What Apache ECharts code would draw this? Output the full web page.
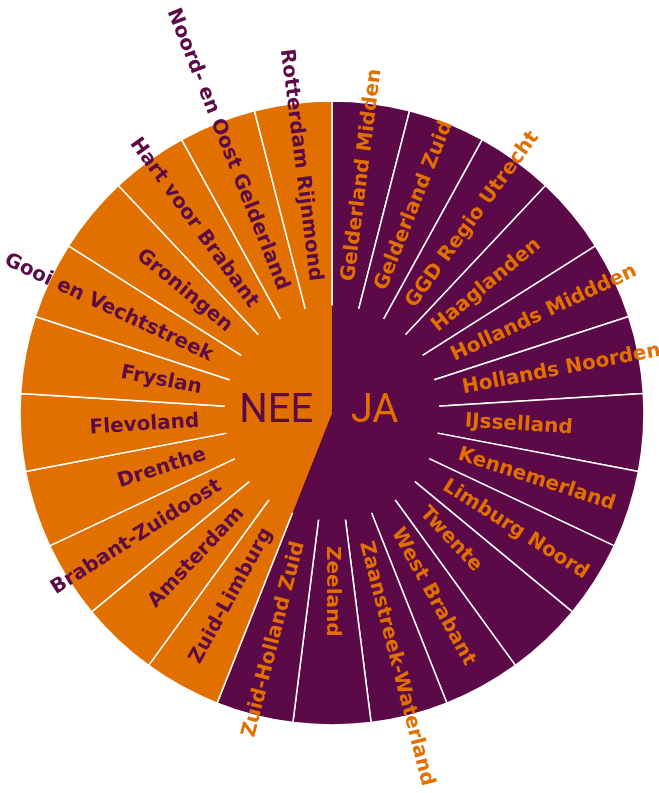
<!DOCTYPE html>
<html>
<head>
<meta charset="utf-8">
<script src="https://cdn.jsdelivr.net/npm/echarts@6/dist/echarts.min.js"></script>
<style>
  html, body { margin: 0; padding: 0; background: #ffffff; }
  #chart { width: 659px; height: 793px; }
</style>
</head>
<body>
<div id="chart"></div>
<script>
// ---- data ----
const groups = ['JA', 'NEE'];
const jaRegions = ['Gelderland Midden', 'Gelderland Zuid', 'GGD Regio Utrecht', 'Haaglanden',
  'Hollands Middden', 'Hollands Noorden', 'IJsselland', 'Kennemerland', 'Limburg Noord',
  'Twente', 'West Brabant', 'Zaanstreek-Waterland', 'Zeeland', 'Zuid-Holland Zuid'];
const jaValues = [1, 1, 1, 1, 1, 1, 1, 1, 1, 1, 1, 1, 1, 1];
const neeRegions = ['Zuid-Limburg', 'Amsterdam', 'Brabant-Zuidoost', 'Drenthe', 'Flevoland',
  'Fryslan', 'Gooi en Vechtstreek', 'Groningen', 'Hart voor Brabant',
  'Noord- en Oost Gelderland', 'Rotterdam Rijnmond'];
const neeValues = [1, 1, 1, 1, 1, 1, 1, 1, 1, 1, 1];

// ---- styles ----
const PURPLE = '#5C0A47';
const ORANGE = '#E27000';
const groupFill = { JA: PURPLE, NEE: ORANGE };
const groupText = { JA: ORANGE, NEE: PURPLE };
// small vertical nudges of the centre labels (layout only)
const groupLabelBox = {
  JA: { verticalAlign: 'bottom', lineHeight: 9 },
  NEE: { verticalAlign: 'top', lineHeight: 5 }
};

function children(names, values, fill, text) {
  return names.map((n, i) => ({
    name: n,
    value: values[i],
    itemStyle: { color: fill },
    label: { color: text }
  }));
}
const childSets = {
  JA: children(jaRegions, jaValues, PURPLE, ORANGE),
  NEE: children(neeRegions, neeValues, ORANGE, PURPLE)
};
const sum = a => a.reduce((s, v) => s + v, 0);
const groupTotals = { JA: sum(jaValues), NEE: sum(neeValues) };

const treeData = groups.map(g => ({
  name: g,
  itemStyle: { color: groupFill[g] },
  children: childSets[g]
}));

const coverData = groups.map(g => ({
  name: g,
  value: groupTotals[g],
  itemStyle: { color: groupFill[g] },
  label: Object.assign({ color: groupText[g] }, groupLabelBox[g])
}));

const chart = echarts.init(document.getElementById('chart'), null, { renderer: 'canvas' });
chart.setOption({
  animation: false,
  series: [
    {
      type: 'sunburst',
      z: 2,
      center: [332, 413],
      radius: [0, 312],
      sort: null,
      startAngle: 90,
      clockwise: true,
      nodeClick: false,
      emphasis: { disabled: true },
      data: treeData,
      levels: [
        {},
        {
          radius: [0, 106],
          itemStyle: { borderWidth: 0 },
          label: { show: false }
        },
        {
          radius: [106, 312],
          itemStyle: { borderColor: '#ffffff', borderWidth: 1.5 },
          label: {
            show: true,
            rotate: 'radial',
            align: 'left',
            distance: 27,
            fontFamily: 'DejaVu Sans',
            fontWeight: 'bold',
            fontSize: 20
          }
        }
      ]
    },
    {
      type: 'sunburst',
      z: 3,
      center: [332, 413],
      radius: [0, 107.5],
      sort: null,
      startAngle: 90,
      clockwise: true,
      nodeClick: false,
      emphasis: { disabled: true },
      itemStyle: { borderWidth: 0 },
      data: coverData,
      label: {
        show: true,
        rotate: 0,
        align: 'left',
        distance: 19,
        fontFamily: 'Roboto',
        fontWeight: 'normal',
        fontSize: 40
      }
    }
  ]
});
</script>
</body>
</html>
